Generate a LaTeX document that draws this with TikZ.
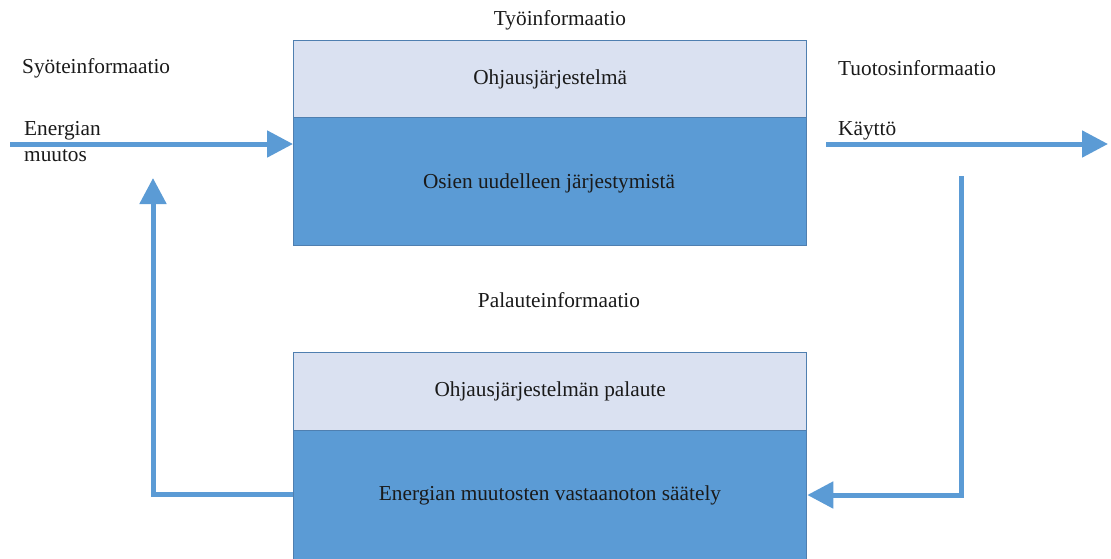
\documentclass[tikz,border=0pt]{standalone}
\usepackage{fontspec}
\setmainfont{Liberation Serif}
\usetikzlibrary{arrows.meta}
\definecolor{boxedge}{HTML}{4F7FB0}
\definecolor{lightpart}{HTML}{DAE1F1}
\definecolor{darkpart}{HTML}{5B9BD5}
\definecolor{flow}{HTML}{5B9BD5}
\definecolor{ink}{HTML}{1A1A1A}
\tikzset{
  part/.style={draw=boxedge, line width=1.3pt, minimum width=513pt, inner sep=0pt,
    text=ink, font=\fontsize{21.3}{24}\selectfont},
  headpart/.style={part, fill=lightpart, minimum height=77pt},
  bodypart/.style={part, fill=darkpart},
  label/.style={text=ink, font=\fontsize{21.3}{24}\selectfont, inner sep=0pt},
  flowline/.style={draw=flow, line width=5pt,
    -{Triangle[length=26pt,width=26pt]}},
}
\begin{document}
\begin{tikzpicture}[x=1pt,y=1pt]
\useasboundingbox (0,0) rectangle (1111,-558);
\clip (0,0) rectangle (1111,-558);
\fill[white] (0,0) rectangle (1111,-558);

% upper system block
\node[headpart, anchor=north west] (ohj) at (293,-40) {Ohjausjärjestelmä};
\node[bodypart, anchor=north west, minimum height=128pt] (osien) at (293,-117) {};
\node[label] (osientxt) at (549,-183) {Osien uudelleen järjestymistä};

% lower feedback block
\node[headpart, anchor=north west, minimum height=78pt] (pal) at (293,-352) {Ohjausjärjestelmän palaute};
\node[bodypart, anchor=north west, minimum height=135pt] (saat) at (293,-430) {};
\node[label] (saattxt) at (550,-495) {Energian muutosten vastaanoton säätely};

% text labels
\node[label] (tyo) at (560,-20) {Työinformaatio};
\node[label, anchor=west] (syote) at (22,-68) {Syöteinformaatio};
\node[label, anchor=west] (tuotos) at (838,-68) {Tuotosinformaatio};
\node[label, anchor=west] (energ) at (24,-131) {Energian};
\node[label, anchor=west] (muutos) at (24,-156) {muutos};
\node[label, anchor=west] (kaytto) at (838,-131) {Käyttö};
\node[label] (palinfo) at (559,-300) {Palauteinformaatio};

% connector end points
\coordinate (inStart) at (10,-144);
\coordinate (outStart) at (826,-144);
\coordinate (outEnd) at (1108,-144);
\coordinate (fbTop) at (961,-176);
\coordinate (fbCorner) at (961,-495);
\coordinate (retCorner) at (153,-494);
\coordinate (retEnd) at (153,-178);

% connectors
\draw[flowline] (inStart) -- (inStart -| osien.west);
\draw[flowline] (outStart) -- (outEnd);
\draw[flowline] (fbTop) -- (fbCorner) -- (fbCorner -| saat.east);
\draw[flowline] (retCorner -| saat.west) -- (retCorner) -- (retEnd);
\end{tikzpicture}
\end{document}
